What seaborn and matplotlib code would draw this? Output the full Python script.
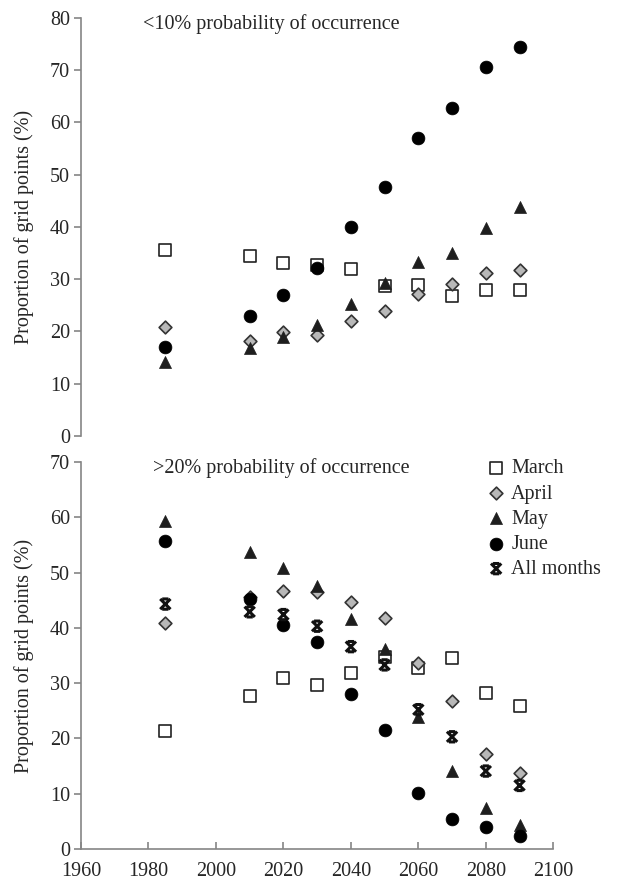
import matplotlib
matplotlib.use("Agg")
import matplotlib.pyplot as plt
from matplotlib.path import Path
import seaborn as sns

# years of the time slices
years = [1985, 2010, 2020, 2030, 2040, 2050, 2060, 2070, 2080, 2090]

# <10% probability of occurrence (top panel)
low_march = [35.6, 34.4, 33.1, 32.8, 31.9, 28.7, 28.9, 26.8, 28.0, 28.0]
low_april = [20.8, 18.2, 19.9, 19.3, 22.1, 23.9, 27.2, 29.1, 31.2, 31.7]
low_may = [14.2, 16.9, 19.0, 21.3, 25.3, 29.2, 33.3, 35.0, 39.8, 43.9]
low_june = [17.0, 22.9, 27.0, 32.2, 40.0, 47.6, 57.0, 62.8, 70.7, 74.5]

# >20% probability of occurrence (bottom panel)
high_march = [21.4, 27.7, 31.0, 29.6, 31.8, 34.7, 32.7, 34.5, 28.3, 25.8]
high_april = [40.8, 45.5, 46.7, 46.5, 44.6, 41.7, 33.6, 26.7, 17.2, 13.8]
high_may = [59.3, 53.8, 50.8, 47.6, 41.6, 36.2, 23.8, 14.2, 7.4, 4.4]
high_june = [55.7, 45.2, 40.5, 37.5, 28.0, 21.6, 10.2, 5.4, 4.0, 2.4]
high_all = [44.3, 42.9, 42.4, 40.3, 36.6, 33.3, 25.2, 20.3, 14.1, 11.5]

sns.set_style("ticks")
plt.rcParams["font.family"] = ["Liberation Serif", "DejaVu Serif"]
plt.rcParams["font.size"] = 14

# X with short caps, like the excel "star" marker
star = Path(
    [(-1, -1), (1, 1), (-1, 1), (1, -1), (-0.6, 1), (0.6, 1), (-0.6, -1), (0.6, -1)],
    [Path.MOVETO, Path.LINETO] * 4,
)

styles = {
    "March": dict(marker="s", facecolor="white", edgecolor="#222222", s=70, linewidth=1.2),
    "April": dict(marker="D", facecolor="#b8b8b8", edgecolor="#333333", s=42, linewidth=1.2),
    "May": dict(marker="^", facecolor="#1e1e1e", edgecolor="#1e1e1e", s=75, linewidth=0.5),
    "June": dict(marker="o", facecolor="black", edgecolor="black", s=85, linewidth=0.5),
    "All months": dict(marker=star, facecolor="none", edgecolor="#111111", s=55, linewidth=2.2),
}

fig = plt.figure(figsize=(6.28, 8.82), dpi=100)
ax1 = fig.add_axes([0.129, 0.5057, 0.752, 0.4739])
ax2 = fig.add_axes([0.129, 0.0374, 0.752, 0.4388])

spine_col = "#858585"

top_series = {"March": low_march, "April": low_april, "May": low_may, "June": low_june}
bottom_series = {"March": high_march, "April": high_april, "May": high_may,
                 "June": high_june, "All months": high_all}

for name, vals in top_series.items():
    sns.scatterplot(x=years, y=vals, ax=ax1, label=name, **styles[name])
for name, vals in bottom_series.items():
    sns.scatterplot(x=years, y=vals, ax=ax2, label=name, **styles[name])

for ax in (ax1, ax2):
    ax.set_xlim(1960, 2100)
    for sp in ("top", "right"):
        ax.spines[sp].set_visible(False)
    for sp in ("left", "bottom"):
        ax.spines[sp].set_color(spine_col)
        ax.spines[sp].set_linewidth(1.2)
    ax.tick_params(axis="y", direction="out", length=5, width=1.2, color=spine_col,
                   labelsize=14.5, pad=3)
    ax.set_ylabel("Proportion of grid points (%)", fontsize=14.5, labelpad=11)

ax1.set_ylim(0, 80)
ax1.set_yticks(range(0, 81, 10))
ax1.spines["bottom"].set_visible(False)
ax1.set_xticks([])
ax1.get_legend().remove()
ax1.text(0.132, 0.985, "<10% probability of occurrence", transform=ax1.transAxes,
         fontsize=14.5, va="center", ha="left")

ax2.set_ylim(0, 70)
ax2.set_yticks(range(0, 71, 10))
ax2.set_xticks(range(1960, 2101, 20))
ax2.tick_params(axis="x", direction="in", length=5, width=1.2, color=spine_col,
                labelsize=14.5, pad=9)
ax2.text(0.153, 0.985, ">20% probability of occurrence", transform=ax2.transAxes,
         fontsize=14.5, va="center", ha="left")
ax2.legend(loc="upper left", bbox_to_anchor=(0.862, 1.007), frameon=False,
           fontsize=14.5, handlelength=0.8, handletextpad=0.35, labelspacing=0.3,
           borderaxespad=0, borderpad=0)

fig.savefig("out.png", dpi=100)
